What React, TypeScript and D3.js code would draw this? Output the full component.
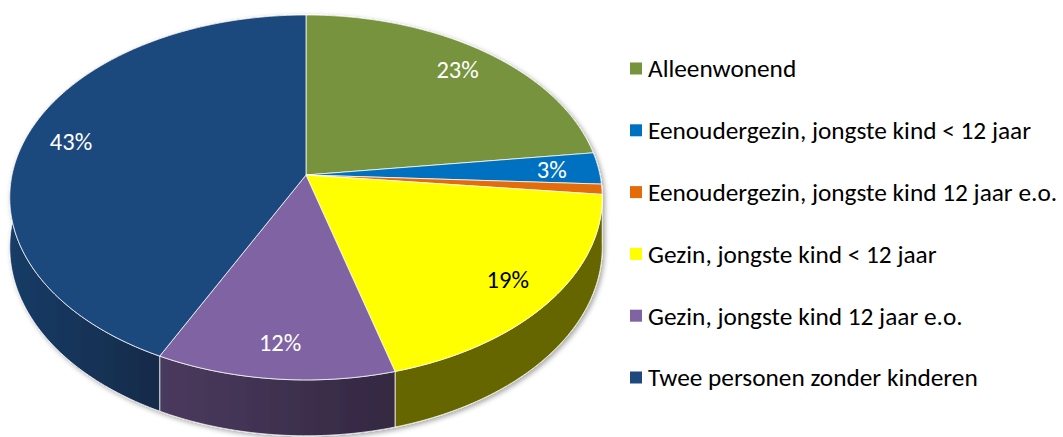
import React from 'react';
import * as d3 from 'd3';

// household types, shares in percent
const categories = [
  'Alleenwonend',
  'Eenoudergezin, jongste kind < 12 jaar',
  'Eenoudergezin, jongste kind 12 jaar e.o.',
  'Gezin, jongste kind < 12 jaar',
  'Gezin, jongste kind 12 jaar e.o.',
  'Twee personen zonder kinderen',
];
const values = [23, 2.8, 0.9, 19, 11.6, 42.7];
const colors = ['#77933c', '#0070c0', '#e36c09', '#ffff00', '#8064a2', '#1f497d'];
const labelColors = ['#fff', '#fff', '#fff', '#000', '#fff', '#fff'];

const W = 1063;
const H = 437;
const FONT = 'Carlito, Calibri, Lato, sans-serif';

// fake perspective for the tilted disc
const cx = 306, cy = 175;
const sx = 294, sy = 179.7;
const k = 0.123;
const depth = 49;

function proj(a: number, r: number, z: number): [number, number] {
  const u = Math.sin(a) * r;
  const v = Math.cos(a) * r;
  const w = 1 + k * v;
  return [cx + (sx * u) / w, cy - (sy * v) / w + (z * depth) / w];
}

function arcPts(a0: number, a1: number, z: number) {
  const n = Math.max(2, Math.ceil(((a1 - a0) * 180) / Math.PI));
  return d3.range(n + 1).map((i) => proj(a0 + ((a1 - a0) * i) / n, 1, z));
}

export default function App() {
  const total = d3.sum(values);
  const pie = d3.pie<number>().sort(null).value((d) => d);
  const arcs = pie(values);
  const line = d3.line();

  const walls = arcs.map((a, i) => {
    const top = arcPts(a.startAngle, a.endAngle, 0);
    const bot = arcPts(a.startAngle, a.endAngle, 1).reverse();
    return { i, d: line([...top, ...bot])! + 'Z' };
  });

  const tops = arcs.map((a, i) => {
    const pts = [proj(0, 0, 0), ...arcPts(a.startAngle, a.endAngle, 0)];
    return { i, d: line(pts)! + 'Z' };
  });

  const labels = arcs
    .map((a, i) => {
      const pct = (a.value / total) * 100;
      const [x, y] = proj((a.startAngle + a.endAngle) / 2, 0.84, 0);
      return { i, x, y, text: Math.round(pct) + '%', show: pct >= 2 };
    })
    .filter((l) => l.show);

  const legendY = d3.scalePoint<string>().domain(categories).range([68.5, 377.5]);

  return (
    <svg width={W} height={H} style={{ position: 'absolute', left: 0, top: 0, background: '#fff' }}>
      <defs>
        <linearGradient id="shade" gradientUnits="userSpaceOnUse" x1={10} y1={0} x2={602} y2={0}>
          <stop offset="0" stopColor="#000" stopOpacity={0.18} />
          <stop offset="0.25" stopColor="#000" stopOpacity={0.42} />
          <stop offset="0.66" stopColor="#000" stopOpacity={0.6} />
          <stop offset="1" stopColor="#000" stopOpacity={0.6} />
        </linearGradient>
        <filter id="shadow" x="-10%" y="-10%" width="120%" height="130%">
          <feDropShadow dx={2} dy={2} stdDeviation={2.5} floodColor="#000" floodOpacity={0.35} />
        </filter>
      </defs>

      <g filter="url(#shadow)">
        {walls.map((w) => (
          <g key={'w' + w.i}>
            <path d={w.d} fill={colors[w.i]} />
            <path d={w.d} fill="url(#shade)" stroke="rgba(255,255,255,0.75)" strokeWidth={1} strokeLinejoin="round" />
          </g>
        ))}
        {tops.map((t) => (
          <path key={'t' + t.i} d={t.d} fill={colors[t.i]} stroke="rgba(255,255,255,0.75)" strokeWidth={1} strokeLinejoin="round" />
        ))}
      </g>

      {labels.map((l) => (
        <text key={'l' + l.i} x={l.x} y={l.y} dy="0.35em" textAnchor="middle" fontFamily={FONT} fontSize={24.5} fill={labelColors[l.i]}>
          {l.text}
        </text>
      ))}

      {categories.map((c, i) => (
        <g key={'lg' + i} transform={`translate(0,${legendY(c)})`}>
          <rect x={630} y={-6} width={12} height={12} fill={colors[i]} />
          <text x={648} y={0} dy="0.35em" fontFamily={FONT} fontSize={25.3} fill="#000">
            {c}
          </text>
        </g>
      ))}
    </svg>
  );
}
